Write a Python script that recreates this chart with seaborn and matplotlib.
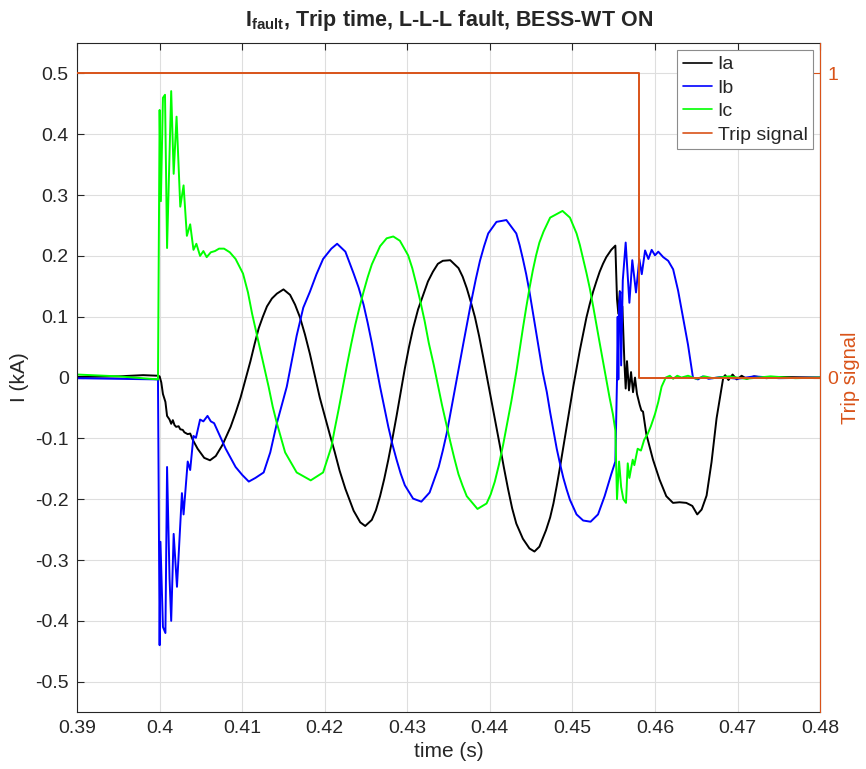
import numpy as np
import pandas as pd
import matplotlib
matplotlib.use("Agg")
import matplotlib.pyplot as plt
from matplotlib.lines import Line2D
import seaborn as sns

# ---- Phase currents (kA) versus time (s) ----
ia_t = [0.3900, 0.3950, 0.3980, 0.3998, 0.4000, 0.4002, 0.4004, 0.4007, 0.4009, 0.4012,
        0.4014, 0.4016, 0.4018, 0.4020, 0.4023, 0.4025, 0.4028, 0.4030, 0.4034, 0.4037,
        0.4040, 0.4046, 0.4054, 0.4061, 0.4068, 0.4076, 0.4086, 0.4092, 0.4098, 0.4104,
        0.4110, 0.4115, 0.4120, 0.4125, 0.4130, 0.4136, 0.4142, 0.4150, 0.4158, 0.4164,
        0.4170, 0.4176, 0.4182, 0.4188, 0.4194, 0.4200, 0.4206, 0.4212, 0.4218, 0.4225,
        0.4235, 0.4243, 0.4249, 0.4257, 0.4262, 0.4267, 0.4272, 0.4277, 0.4282, 0.4287,
        0.4292, 0.4297, 0.4302, 0.4307, 0.4313, 0.4319, 0.4325, 0.4331, 0.4337, 0.4343,
        0.4352, 0.4362, 0.4367, 0.4372, 0.4377, 0.4382, 0.4387, 0.4392, 0.4397, 0.4402,
        0.4407, 0.4412, 0.4417, 0.4422, 0.4427, 0.4432, 0.4440, 0.4448, 0.4454, 0.4460,
        0.4468, 0.4473, 0.4477, 0.4481, 0.4485, 0.4489, 0.4493, 0.4497, 0.4501, 0.4505,
        0.4509, 0.4513, 0.4517, 0.4521, 0.4525, 0.4529, 0.4533, 0.4537, 0.4541, 0.4547,
        0.4552, 0.4554, 0.45556, 0.45573, 0.45589, 0.45605, 0.45629, 0.45645, 0.45661, 0.45685,
        0.4571, 0.45734, 0.45758, 0.45782, 0.45815, 0.45835, 0.45855, 0.45895, 0.45976, 0.46056,
        0.46137, 0.46218, 0.46298, 0.46379, 0.46452, 0.46512, 0.46565, 0.46625, 0.46685, 0.46746,
        0.46827, 0.4685, 0.4689, 0.4694, 0.4699, 0.4705, 0.4711, 0.4720, 0.4735, 0.4750,
        0.4800]
ia = [0.001, 0.002, 0.004, 0.003, 0.002, -0.008, -0.027, -0.040, -0.063, -0.069,
      -0.076, -0.070, -0.078, -0.081, -0.080, -0.085, -0.086, -0.090, -0.093, -0.092,
      -0.102, -0.117, -0.132, -0.136, -0.129, -0.111, -0.081, -0.058, -0.033, -0.003,
      0.027, 0.055, 0.081, 0.100, 0.117, 0.130, 0.138, 0.145, 0.136, 0.120,
      0.099, 0.071, 0.039, 0.003, -0.033, -0.063, -0.093, -0.122, -0.153, -0.183,
      -0.219, -0.238, -0.244, -0.234, -0.218, -0.195, -0.167, -0.135, -0.100, -0.063,
      -0.024, 0.015, 0.050, 0.081, 0.112, 0.135, 0.158, 0.174, 0.187, 0.192,
      0.193, 0.180, 0.166, 0.147, 0.124, 0.099, 0.068, 0.033, -0.003, -0.039,
      -0.075, -0.111, -0.148, -0.183, -0.215, -0.240, -0.265, -0.281, -0.286, -0.278,
      -0.251, -0.230, -0.207, -0.178, -0.147, -0.114, -0.081, -0.048, -0.015, 0.015,
      0.045, 0.072, 0.099, 0.121, 0.141, 0.158, 0.174, 0.187, 0.198, 0.210,
      0.217, 0.129, 0.105, 0.142, 0.069, 0.117, 0.027, -0.018, 0.027, -0.021,
      0.009, -0.024, 0.000, -0.027, -0.045, -0.054, -0.056, -0.093, -0.135, -0.168,
      -0.195, -0.206, -0.205, -0.206, -0.211, -0.225, -0.217, -0.194, -0.139, -0.067,
      0.000, 0.004, -0.004, 0.005, -0.003, 0.003, -0.002, 0.002, -0.001, 0.001,
      0.000]

ib_t = [0.3900, 0.3950, 0.3998, 0.4000, 0.4001, 0.4004, 0.4007, 0.4009, 0.4012, 0.4014,
        0.4017, 0.4021, 0.4027, 0.4029, 0.4034, 0.4037, 0.4041, 0.4044, 0.4049, 0.4053,
        0.4058, 0.4062, 0.4066, 0.4072, 0.4080, 0.4092, 0.4100, 0.4108, 0.4116, 0.4126,
        0.4134, 0.4142, 0.4148, 0.4154, 0.4160, 0.4166, 0.4174, 0.4182, 0.4190, 0.4198,
        0.4208, 0.4215, 0.4225, 0.4235, 0.4241, 0.4247, 0.4252, 0.4257, 0.4262, 0.4267,
        0.4272, 0.4277, 0.4282, 0.4287, 0.4292, 0.4297, 0.4307, 0.4317, 0.4327, 0.4332,
        0.4338, 0.4343, 0.4348, 0.4353, 0.4358, 0.4363, 0.4368, 0.4373, 0.4378, 0.4383,
        0.4388, 0.4393, 0.4398, 0.4408, 0.4420, 0.4432, 0.4436, 0.4440, 0.4444, 0.4448,
        0.4452, 0.4456, 0.4460, 0.4464, 0.4469, 0.4473, 0.4477, 0.4481, 0.4485, 0.4489,
        0.4493, 0.4497, 0.4505, 0.4513, 0.4522, 0.4531, 0.4539, 0.4547, 0.4552, 0.4554,
        0.45548, 0.45556, 0.45565, 0.4558, 0.4559, 0.4561, 0.45645, 0.4569, 0.45725, 0.4577,
        0.4581, 0.4584, 0.4588, 0.4592, 0.4596, 0.4600, 0.4604, 0.4610, 0.4616, 0.4622,
        0.4628, 0.4634, 0.4640, 0.4646, 0.4652, 0.4658, 0.4665, 0.4680, 0.4700, 0.4720,
        0.4750, 0.4800]
ib = [-0.001, -0.002, -0.003, -0.440, -0.270, -0.410, -0.420, -0.147, -0.330, -0.400,
      -0.257, -0.344, -0.190, -0.225, -0.138, -0.152, -0.096, -0.099, -0.069, -0.072,
      -0.063, -0.072, -0.075, -0.093, -0.117, -0.147, -0.160, -0.171, -0.165, -0.156,
      -0.123, -0.075, -0.045, -0.015, 0.027, 0.069, 0.115, 0.141, 0.170, 0.195,
      0.212, 0.220, 0.207, 0.171, 0.148, 0.120, 0.090, 0.057, 0.021, -0.015,
      -0.048, -0.081, -0.110, -0.135, -0.158, -0.177, -0.199, -0.204, -0.189, -0.170,
      -0.147, -0.120, -0.090, -0.053, -0.015, 0.021, 0.057, 0.093, 0.129, 0.162,
      0.192, 0.216, 0.237, 0.256, 0.259, 0.237, 0.218, 0.195, 0.170, 0.141,
      0.108, 0.075, 0.042, 0.009, -0.024, -0.057, -0.087, -0.117, -0.142, -0.165,
      -0.184, -0.201, -0.225, -0.235, -0.237, -0.225, -0.195, -0.159, -0.138, -0.003,
      0.100, -0.003, 0.120, 0.141, 0.020, 0.160, 0.222, 0.123, 0.193, 0.140,
      0.195, 0.170, 0.209, 0.195, 0.210, 0.201, 0.207, 0.198, 0.192, 0.178,
      0.143, 0.098, 0.054, 0.000, -0.003, 0.002, -0.002, 0.001, -0.002, 0.002,
      -0.001, 0.000]

ic_t = [0.3900, 0.3950, 0.3998, 0.4000, 0.40015, 0.4004, 0.40065, 0.4009, 0.4014, 0.4017,
        0.40205, 0.4025, 0.4029, 0.4033, 0.4037, 0.4041, 0.40445, 0.4049, 0.4053, 0.4057,
        0.4062, 0.4067, 0.4072, 0.4078, 0.4085, 0.4092, 0.4101, 0.4107, 0.4112, 0.4117,
        0.4122, 0.4127, 0.4132, 0.4137, 0.4142, 0.4152, 0.4166, 0.4183, 0.4198, 0.4208,
        0.4212, 0.4217, 0.4222, 0.4227, 0.4232, 0.4237, 0.4242, 0.4247, 0.4252, 0.4257,
        0.4267, 0.4275, 0.4283, 0.4291, 0.4301, 0.4306, 0.4311, 0.4316, 0.4321, 0.4326,
        0.4332, 0.4337, 0.4342, 0.4347, 0.4352, 0.4357, 0.4362, 0.4367, 0.4372, 0.4385,
        0.4396, 0.4401, 0.4406, 0.4411, 0.4416, 0.4421, 0.4426, 0.4432, 0.4436, 0.4440,
        0.4444, 0.4448, 0.4452, 0.4456, 0.4460, 0.4465, 0.4473, 0.4488, 0.4497, 0.4505,
        0.4509, 0.4513, 0.4517, 0.4521, 0.4525, 0.4529, 0.4533, 0.4537, 0.4541, 0.4545,
        0.4549, 0.4552, 0.4554, 0.45565, 0.4559, 0.45617, 0.45649, 0.4567, 0.4569, 0.4573,
        0.4575, 0.4579, 0.4583, 0.4587, 0.4591, 0.4595, 0.4600, 0.4604, 0.4608, 0.4613,
        0.4618, 0.4622, 0.4627, 0.4632, 0.4640, 0.4650, 0.4660, 0.4670, 0.4690, 0.4710,
        0.4740, 0.4770, 0.4800]
ic = [0.005, 0.002, -0.003, 0.440, 0.290, 0.460, 0.465, 0.213, 0.471, 0.335,
      0.429, 0.281, 0.316, 0.233, 0.252, 0.210, 0.220, 0.200, 0.208, 0.198,
      0.206, 0.208, 0.212, 0.212, 0.206, 0.195, 0.171, 0.140, 0.105, 0.075,
      0.045, 0.015, -0.015, -0.048, -0.075, -0.123, -0.156, -0.169, -0.156, -0.114,
      -0.085, -0.051, -0.015, 0.021, 0.055, 0.087, 0.115, 0.141, 0.165, 0.186,
      0.216, 0.229, 0.232, 0.225, 0.201, 0.180, 0.153, 0.124, 0.093, 0.057,
      0.021, -0.012, -0.045, -0.075, -0.105, -0.133, -0.159, -0.178, -0.195, -0.216,
      -0.207, -0.192, -0.171, -0.143, -0.111, -0.075, -0.039, 0.009, 0.045, 0.081,
      0.115, 0.147, 0.176, 0.201, 0.222, 0.240, 0.263, 0.274, 0.263, 0.237,
      0.218, 0.195, 0.172, 0.147, 0.118, 0.087, 0.057, 0.027, -0.003, -0.033,
      -0.060, -0.087, -0.200, -0.138, -0.180, -0.200, -0.206, -0.141, -0.165, -0.135,
      -0.144, -0.117, -0.120, -0.102, -0.093, -0.080, -0.060, -0.040, -0.015, 0.000,
      0.003, -0.002, 0.003, 0.000, 0.003, -0.002, 0.002, -0.001, 0.002, -0.002,
      0.002, -0.001, 0.000]

# ---- Breaker trip signal ----
trip_t = [0.3900, 0.45806, 0.4800]
trip_state = [1, 0, 0]

# ---- Axis ticks ----
x_ticks = [0.39, 0.40, 0.41, 0.42, 0.43, 0.44, 0.45, 0.46, 0.47, 0.48]
x_tick_labels = ["0.39", "0.4", "0.41", "0.42", "0.43", "0.44", "0.45", "0.46", "0.47", "0.48"]
y_ticks = [-0.5, -0.4, -0.3, -0.2, -0.1, 0.0, 0.1, 0.2, 0.3, 0.4, 0.5]
y_tick_labels = ["-0.5", "-0.4", "-0.3", "-0.2", "-0.1", "0", "0.1", "0.2", "0.3", "0.4", "0.5"]

phase_names = ["Ia", "Ib", "Ic"]
phase_colors = {"Ia": "#000000", "Ib": "#0000FF", "Ic": "#00FF00"}
trip_color = "#D95319"
text_color = "#262626"

frames = []
for name, t, v in zip(phase_names, [ia_t, ib_t, ic_t], [ia, ib, ic]):
    frames.append(pd.DataFrame({"time": t, "current": v, "phase": name}))
currents = pd.concat(frames, ignore_index=True)
trip = pd.DataFrame({"time": trip_t, "state": trip_state})

sns.set_style("white")
plt.rcParams["font.family"] = ["Liberation Sans", "DejaVu Sans"]
plt.rcParams["mathtext.fontset"] = "custom"
plt.rcParams["mathtext.rm"] = "Liberation Sans"
plt.rcParams["mathtext.bf"] = "Liberation Sans:bold"
plt.rcParams["mathtext.it"] = "Liberation Sans:italic"

fig = plt.figure(figsize=(8.66, 7.69), dpi=100)
ax = fig.add_axes([0.089, 0.074, 0.858, 0.870])

for name in phase_names:
    sns.lineplot(data=currents[currents["phase"] == name], x="time", y="current",
                 color=phase_colors[name], lw=1.4, sort=False, estimator=None,
                 ax=ax, legend=False)

ax.set_xlim(0.39, 0.48)
ax.set_ylim(-0.55, 0.55)
ax.set_xticks(x_ticks)
ax.set_xticklabels(x_tick_labels)
ax.set_yticks(y_ticks)
ax.set_yticklabels(y_tick_labels)
ax.grid(True, color="#DEDEDE", lw=0.8)
ax.set_axisbelow(True)
ax.tick_params(axis="both", direction="in", length=5, labelsize=14,
               colors=text_color, top=True, pad=6)
ax.set_xlabel("time (s)", fontsize=15, color=text_color, labelpad=3)
ax.set_ylabel("I (kA)", fontsize=15, color=text_color, labelpad=4)
for side in ["left", "bottom", "top"]:
    ax.spines[side].set_color(text_color)
    ax.spines[side].set_linewidth(0.8)
ax.set_title(r"$\mathbf{I_{fault}}$, Trip time, L-L-L fault, BESS-WT ON",
             fontsize=15.5, fontweight="bold", color=text_color, pad=12)

ax2 = ax.twinx()
sns.lineplot(data=trip, x="time", y="state", color=trip_color, lw=1.4,
             drawstyle="steps-post", estimator=None, sort=False, ax=ax2, legend=False)
ax2.set_ylim(-1.1, 1.1)
ax2.set_yticks([0, 1])
ax2.set_yticklabels(["0", "1"])
ax2.set_ylabel("Trip signal", fontsize=14.5, color=trip_color, labelpad=2)
ax2.tick_params(axis="y", direction="in", length=5, labelsize=14, colors=trip_color, pad=5)
ax2.spines["right"].set_color(trip_color)
ax2.spines["right"].set_linewidth(0.8)
ax2.spines["left"].set_visible(False)
ax2.spines["top"].set_visible(False)
ax2.spines["bottom"].set_visible(False)
ax2.grid(False)

handles = [Line2D([], [], color=phase_colors[n], lw=1.2) for n in phase_names]
handles.append(Line2D([], [], color=trip_color, lw=1.2))
leg = ax2.legend(handles, phase_names + ["Trip signal"], loc="upper right",
                 fontsize=14, frameon=True, fancybox=False, framealpha=1,
                 edgecolor="#8C8C8C", handlelength=1.5, handletextpad=0.3,
                 labelspacing=0.3, borderpad=0.3, borderaxespad=0.35)
leg.get_frame().set_linewidth(0.8)

fig.savefig("out.png", dpi=100)
